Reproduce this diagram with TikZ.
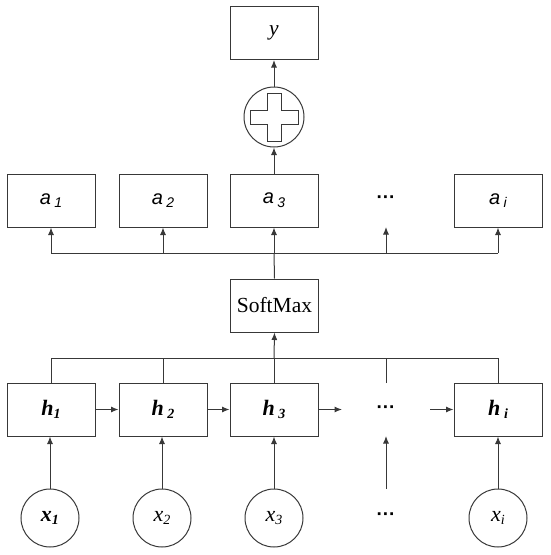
\documentclass[tikz,border=0pt]{standalone}
\usepackage{fontspec}
\setmainfont{Liberation Serif}
\newfontfamily\asf{Liberation Sans}
\usetikzlibrary{arrows.meta}
\definecolor{ln}{HTML}{383838}
\newcommand{\sbs}[1]{\raisebox{-0.35ex}{\fontsize{14}{14}\selectfont #1}}
\tikzset{
  box/.style={draw=ln, line width=1pt, minimum width=88pt, minimum height=53pt, inner sep=0pt, font=\fontsize{21.5}{21.5}\selectfont},
  circ/.style={draw=ln, line width=1pt, circle, minimum size=58pt, inner sep=0pt, font=\fontsize{22}{22}\selectfont},
  dotsn/.style={inner sep=0pt, font=\asf\bfseries\fontsize{19}{19}\selectfont},
  conn/.style={draw=ln, line width=1pt},
  arr/.style={conn, -{Latex[length=7.5pt,width=6pt]}}
}
\begin{document}
\begin{tikzpicture}[x=1pt,y=-1pt]
\useasboundingbox (0,0) rectangle (550,555);
% top
\node[box] (y) at (274,33) {\textit{y}};
\node[draw=ln, line width=1pt, circle, minimum size=60pt, inner sep=0pt] (plus) at (274,117) {};
\draw[ln, line width=1pt] ([shift={(-7,-24)}]plus.center) -- ++(14,0) -- ++(0,17) -- ++(17,0) -- ++(0,14) -- ++(-17,0) -- ++(0,17) -- ++(-14,0) -- ++(0,-17) -- ++(-17,0) -- ++(0,-14) -- ++(17,0) -- cycle;
% a row
\node[box, font=\asf\itshape\fontsize{20}{20}\selectfont] (a1) at (51,200.5) {a\,\sbs{1}};
\node[box, font=\asf\itshape\fontsize{20}{20}\selectfont] (a2) at (163,200.5) {a\,\sbs{2}};
\node[box, font=\asf\itshape\fontsize{20}{20}\selectfont] (a3) at (274,200.5) {a\,\sbs{3}};
\node[dotsn] (ad) at (386,200) {···};
\coordinate (adb) at (386,227);
\node[box, font=\asf\itshape\fontsize{20}{20}\selectfont] (ai) at (498,200.5) {a\,\sbs{i}};
% softmax
\node[box] (sm) at (274.5,305.5) {SoftMax};
% h row
\node[box, font=\bfseries\itshape\fontsize{22}{22}\selectfont] (h1) at (51,409.5) {h\sbs{1}};
\node[box, font=\bfseries\itshape\fontsize{22}{22}\selectfont] (h2) at (163,409.5) {h\,\sbs{2}};
\node[box, font=\bfseries\itshape\fontsize{22}{22}\selectfont] (h3) at (274,409.5) {h\,\sbs{3}};
\node[dotsn] (hd) at (386,410) {···};
\node[box, font=\bfseries\itshape\fontsize{22}{22}\selectfont] (hi) at (498,409.5) {h\,\sbs{i}};
\coordinate (hdt) at (386,383);
\coordinate (hdb) at (386,436);
\coordinate (hdl) at (342,409.5);
\coordinate (hdr) at (430,409.5);
% x row
\node[circ] (x1) at (50,518) {\bfseries\itshape x\sbs{1}};
\node[circ] (x2) at (162,518) {\itshape x\sbs{2}};
\node[circ] (x3) at (274,518) {\itshape x\sbs{3}};
\node[dotsn] (xd) at (386,517) {···};
\coordinate (xdt) at (386,489);
\node[circ] (xi) at (498,518) {\itshape x\sbs{i}};
% buses
\coordinate (ab1) at (51,253);
\coordinate (ab2) at (163,253);
\coordinate (ab3) at (274,253);
\coordinate (abd) at (386,253);
\coordinate (abi) at (498,253);
\coordinate (hb1) at (51,358);
\coordinate (hb2) at (163,358);
\coordinate (hb3) at (274,358);
\coordinate (hbd) at (386,358);
\coordinate (hbi) at (498,358);
\draw[conn] (ab1) -- (abi);
\draw[conn] (hb1) -- (hbi);
\draw[arr] (ab1) -- (a1.south);
\draw[arr] (ab2) -- (a2.south);
\draw[arr] (ab3) -- (a3.south);
\draw[arr] (abd) -- (adb);
\draw[arr] (abi) -- (ai.south);
\draw[conn] (h1.north) -- (hb1);
\draw[conn] (h2.north) -- (hb2);
\draw[conn] (h3.north) -- (hb3);
\draw[conn] (hdt) -- (hbd);
\draw[conn] (hi.north) -- (hbi);
\draw[arr] (hb3) -- (sm.south);
\draw[conn] (sm.north) -- (ab3);
\draw[arr] (a3.north) -- (plus.south);
\draw[arr] (plus.north) -- (y.south);
% h chain
\draw[arr] (h1.east) -- (h2.west);
\draw[arr] (h2.east) -- (h3.west);
\draw[arr] (h3.east) -- (hdl);
\draw[arr] (hdr) -- (hi.west);
% inputs
\draw[arr] (x1.north) -- (x1.north |- h1.south);
\draw[arr] (x2.north) -- (x2.north |- h2.south);
\draw[arr] (x3.north) -- (h3.south);
\draw[arr] (xdt) -- (hdb);
\draw[arr] (xi.north) -- (hi.south);
\end{tikzpicture}
\end{document}
